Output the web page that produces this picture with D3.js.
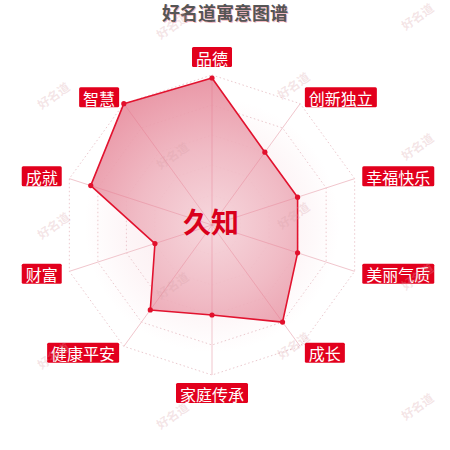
<!DOCTYPE html>
<html><head><meta charset="utf-8">
<script src="https://cdn.jsdelivr.net/npm/d3@7/dist/d3.min.js"></script>
<style>
html,body{margin:0;padding:0;background:#fff;}
svg{display:block;font-family:"Noto Sans CJK SC","Noto Sans",sans-serif;}
</style></head>
<body><svg id="c" width="450" height="450"></svg>
<script>
const title = "好名道寓意图谱";
const centerName = "久知";
const categories = ["品德","创新独立","幸福快乐","美丽气质","成长","家庭传承","健康平安","财富","成就","智慧"];
const values = [98, 60, 60, 60, 80, 60, 70, 40, 85, 100];
const maxValue = 100;
const levels = [20, 40, 60, 80, 100];
const watermarkText = "好名道";

const svg = d3.select("#c");
const cx = 212, cy = 225, R = 150;
const n = categories.length;
const rScale = d3.scaleLinear().domain([0, maxValue]).range([0, R]);
const ang = d3.scaleLinear().domain([0, n]).range([0, 2*Math.PI]);
const pt = (i, r) => [cx + r*Math.sin(ang(i)), cy - r*Math.cos(ang(i))];

const defs = svg.append("defs");
const bg = defs.append("radialGradient").attr("id","bgGrad")
  .attr("gradientUnits","userSpaceOnUse").attr("cx",cx).attr("cy",cy).attr("r",R);
bg.append("stop").attr("offset","0").attr("stop-color","#f4c2cc").attr("stop-opacity",0.4);
bg.append("stop").attr("offset","0.6").attr("stop-color","#f4c2cc").attr("stop-opacity",0.15);
bg.append("stop").attr("offset","0.85").attr("stop-color","#f4c2cc").attr("stop-opacity",0.0);
const dg = defs.append("radialGradient").attr("id","dataGrad")
  .attr("gradientUnits","userSpaceOnUse").attr("cx",cx).attr("cy",cy).attr("r",R);
dg.append("stop").attr("offset","0").attr("stop-color","#f6d6dc");
dg.append("stop").attr("offset","0.5").attr("stop-color","#efb5c0");
dg.append("stop").attr("offset","1").attr("stop-color","#e78b9c");

const line = d3.line();
svg.append("path")
  .attr("d", line(d3.range(n).map(i => pt(i, R))) + "Z")
  .attr("fill","url(#bgGrad)");
svg.append("g").selectAll("path").data(levels).join("path")
  .attr("d", v => line(d3.range(n).map(i => pt(i, rScale(v)))) + "Z")
  .attr("fill","none").attr("stroke","#ebc9ce").attr("stroke-width",1)
  .attr("stroke-dasharray","1.5,2.5");
svg.append("g").selectAll("line").data(d3.range(n)).join("line")
  .attr("x1",cx).attr("y1",cy)
  .attr("x2",i=>pt(i,R)[0]).attr("y2",i=>pt(i,R)[1])
  .attr("stroke","#f1c6cd").attr("stroke-width",1);

const dataPts = values.map((v,i)=>pt(i, rScale(v)));
svg.append("path").attr("d", line(dataPts)+"Z")
  .attr("fill","url(#dataGrad)").attr("fill-opacity",0.9)
  .attr("stroke","#e2132f").attr("stroke-width",1.6).attr("stroke-linejoin","round");
svg.append("g").selectAll("line").data(d3.range(n)).join("line")
  .attr("x1",cx).attr("y1",cy)
  .attr("x2",i=>pt(i,rScale(values[i]))[0]).attr("y2",i=>pt(i,rScale(values[i]))[1])
  .attr("stroke","#e57a8e").attr("stroke-opacity",0.35).attr("stroke-width",1);
svg.append("g").selectAll("circle").data(dataPts).join("circle")
  .attr("cx",d=>d[0]).attr("cy",d=>d[1]).attr("r",2.6).attr("fill","#e2102c");

const LR = 158, fs = 16, padX = 4, boxH = 20;
const lg = svg.append("g");
categories.forEach((c,i)=>{
  const a = ang(i), s = Math.sin(a), co = Math.cos(a);
  const [px,py] = pt(i, LR);
  const w = c.length*fs + padX*2;
  let x, y;
  if (Math.abs(s) < 0.01) { x = px - w/2; y = co > 0 ? py - boxH : py; }
  else { y = py - boxH/2; x = s > 0 ? px : px - w; }
  lg.append("rect").attr("x",x).attr("y",y).attr("width",w).attr("height",boxH)
    .attr("rx",1.5).attr("fill","#e2001d");
  lg.append("text").attr("x",x+w/2).attr("y",y+boxH/2+0.5)
    .attr("text-anchor","middle").attr("dominant-baseline","central")
    .attr("fill","#fff").attr("font-size",fs).text(c);
});

svg.append("text").attr("x",cx-1).attr("y",cy-4)
  .attr("text-anchor","middle").attr("dominant-baseline","central")
  .attr("font-size",28).attr("font-weight","bold").attr("fill","#d9001b")
  .text(centerName);

svg.append("text").attr("x",225).attr("y",12)
  .attr("text-anchor","middle").attr("dominant-baseline","central")
  .attr("font-size",18).attr("font-weight","bold").attr("fill","#555")
  .style("text-shadow","1px 1px 0.5px rgba(230,120,140,0.5)")
  .text(title);

const colX = [53, 172, 293, 417], colY = [95, 25, 85, 16];
const wm = svg.append("g").attr("pointer-events","none");
colX.forEach((x,k)=>{
  for (let y = colY[k]; y < 440; y += 130) {
    wm.append("text").attr("transform",`translate(${x},${y}) rotate(-35)`)
      .attr("text-anchor","middle").attr("dominant-baseline","central")
      .attr("font-size",12).attr("font-weight","bold")
      .attr("fill","#d8a0a8").attr("fill-opacity",0.28).text(watermarkText);
  }
});
</script></body></html>
